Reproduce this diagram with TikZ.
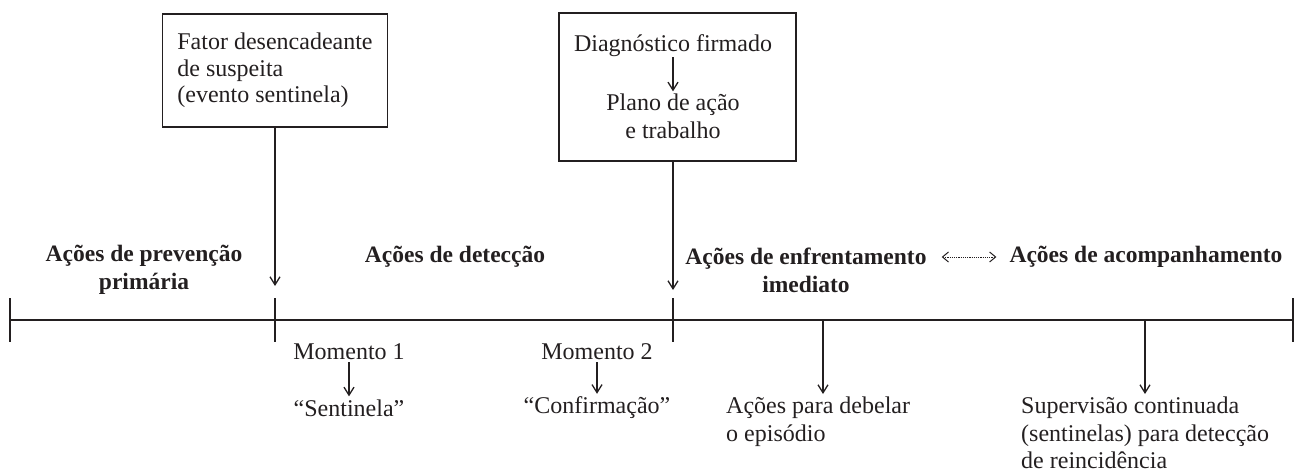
\documentclass[tikz,border=0pt]{standalone}
\usepackage{fontspec}
\setmainfont{Liberation Serif}
\usetikzlibrary{arrows.meta}
\definecolor{ink}{RGB}{35,31,32}
\begin{document}
\begin{tikzpicture}[x=1pt,y=-1pt,
  txt/.style={inner sep=0pt, text=ink, font=\fontsize{24}{28}\selectfont},
  hd/.style={inner sep=0pt, text=ink, align=center, font=\fontsize{23.5}{28}\selectfont\bfseries},
  boxst/.style={draw=ink, line width=1.3pt, inner sep=0pt},
  axis/.style={draw=ink, line width=2.7pt},
  tickst/.style={draw=ink, line width=2.6pt},
  conn/.style={draw=ink, line width=1.3pt, -{Straight Barb[length=8pt,width=10pt,line width=1.3pt]}},
  darr/.style={draw=ink, line width=0.8pt, dash pattern=on 1.2pt off 1pt,
    {Straight Barb[length=6pt,width=10pt,line width=1pt]}-{Straight Barb[length=6pt,width=10pt,line width=1pt]}}
]
\useasboundingbox (0,0) rectangle (1295,474);

% timeline
\coordinate (L0) at (10,320);
\coordinate (T1) at (275,320);
\coordinate (T2) at (673,320);
\coordinate (L1) at (1293,320);
\coordinate (D1) at (823,320);
\coordinate (D2) at (1145,320);
\draw[axis] (L0) -- (L1);
\foreach \c in {L0,T1,T2,L1}{
  \draw[tickst] ([yshift=22pt]\c) -- ([yshift=-22pt]\c);
}

% top boxes
\node[boxst, minimum width=225pt, minimum height=113pt, align=left, text=ink,
  font=\fontsize{24}{26.5}\selectfont] (b1) at (275,70.5)
  {Fator desencadeante\\de suspeita\\(evento sentinela)};
\node[boxst, minimum width=237pt, minimum height=148pt] (b2) at (677.5,87) {};
\node[txt] (d1) at (673,46) {Diagnóstico firmado};
\node[txt, align=center] (p1) at (673,116) {Plano de ação\\e trabalho};
\draw[conn, shorten >=2pt] (d1.south) -- (p1.north);

\coordinate (a1) at (275,286);
\coordinate (a2) at (673,290);
\draw[conn] (b1.south) -- (a1);
\draw[conn] (b2.south -| T2) -- (a2);

% headings
\node[hd] (hp) at (144,270) {Ações de prevenção\\primária};
\node[hd] (hdt) at (455,257) {Ações de detecção};
\node[hd] (he) at (806,270) {Ações de enfrentamento\\imediato};
\node[hd] (ha) at (1146,257) {Ações de acompanhamento};
\draw[darr, shorten <=15pt, shorten >=13pt] (he.east |- ha.west) -- (ha.west);

% moments
\node[txt] (m1) at (349,352) {Momento 1};
\node[txt] (s1) at (349,408) {“Sentinela”};
\node[txt] (m2) at (597,352) {Momento 2};
\node[txt] (s2) at (597,408) {“Confirmação”};
\draw[conn, shorten <=2pt, shorten >=3pt] (m1.south) -- (s1.north);
\draw[conn, shorten <=2pt, shorten >=3pt] (m2.south) -- (s2.north);

% drop arrows
\node[txt, align=left, anchor=north west] (e1) at (726,397) {Ações para debelar\\o episódio};
\node[txt, align=left, anchor=north west, font=\fontsize{24}{27.5}\selectfont] (e2) at (1021,397)
  {Supervisão continuada\\(sentinelas) para detecção\\de reincidência};
\draw[conn, shorten >=3pt] (D1) -- (D1 |- e1.north);
\draw[conn, shorten >=3pt] (D2) -- (D2 |- e2.north);
\end{tikzpicture}
\end{document}
